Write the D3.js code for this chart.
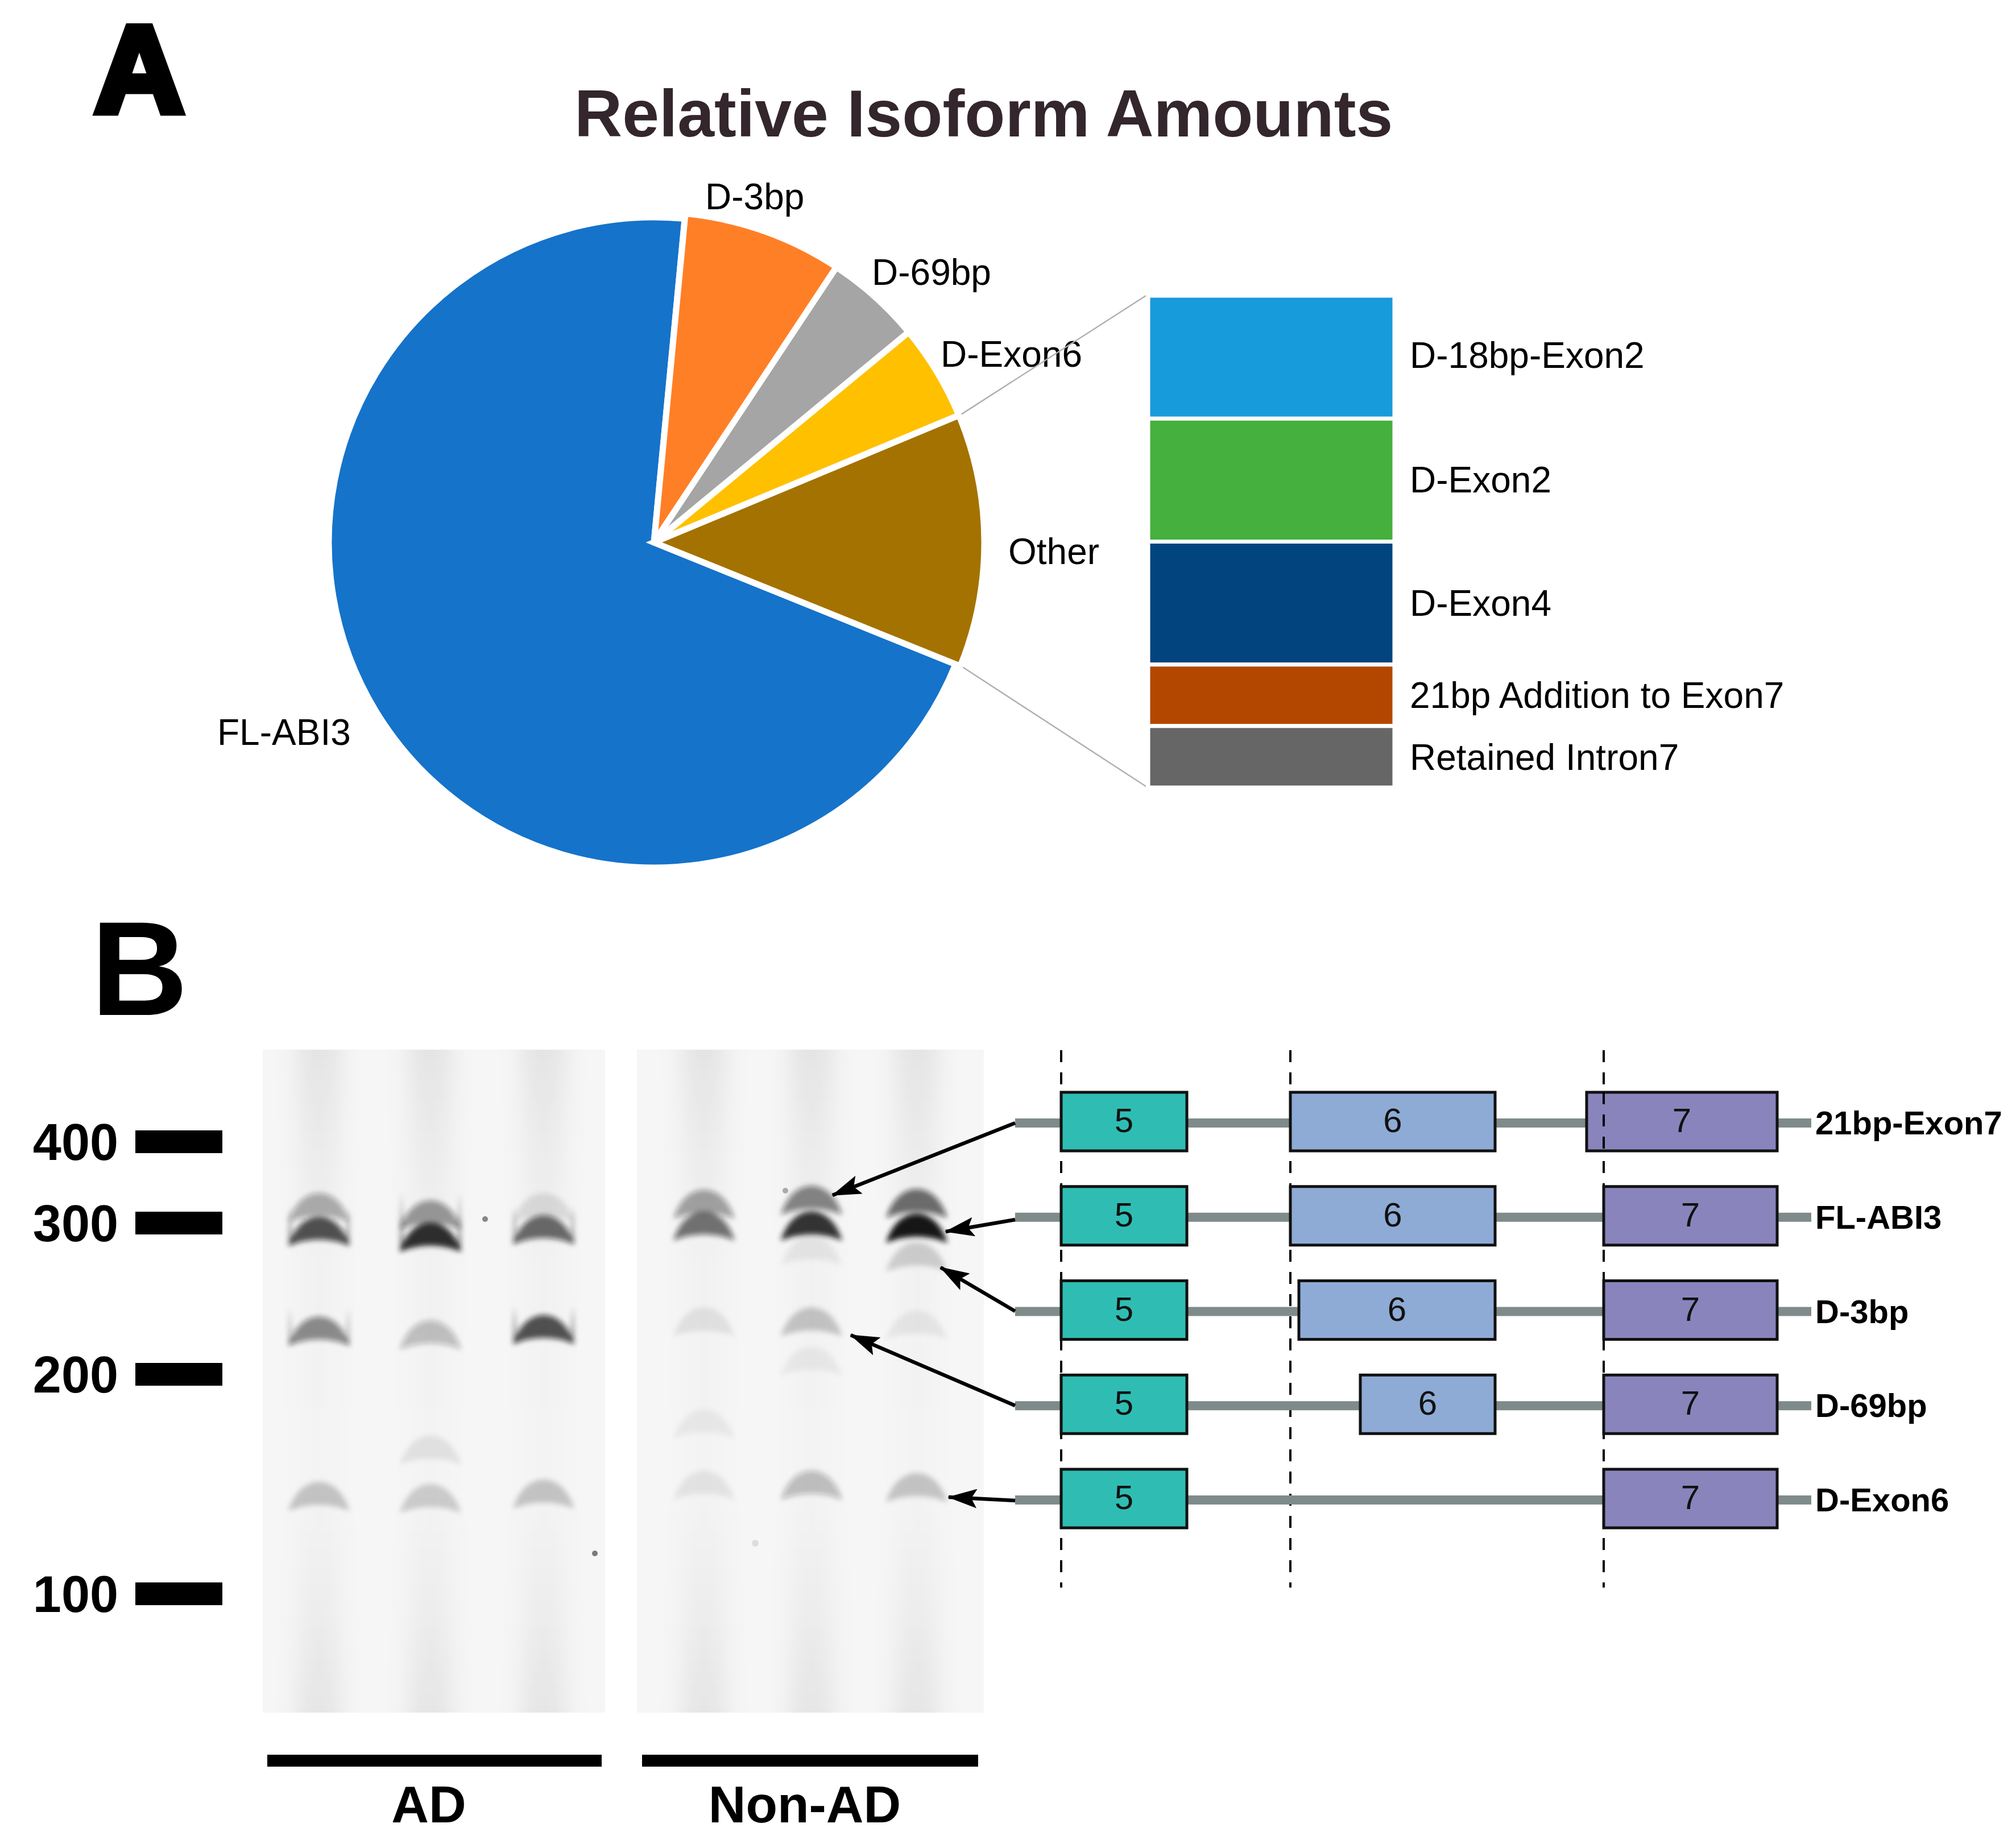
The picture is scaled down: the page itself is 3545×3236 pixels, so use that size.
<!DOCTYPE html>
<html><head><meta charset="utf-8">
<script src="https://cdn.jsdelivr.net/npm/d3@7"></script>
<style>html,body{margin:0;padding:0;background:#fff}svg{display:block}text{font-family:"Liberation Sans",Arial,sans-serif}</style>
</head><body><div id="c"></div>
<script>
// ---- data ----
const pieLabels = ["FL-ABI3","D-3bp","D-69bp","D-Exon6","Other"];
const pieValues = [70.4,7.8,4.7,4.7,12.4];
const pieColors = ["#1573ca","#ff7f27","#a5a5a5","#ffc000","#a47200"];
const otherLabels = ["D-18bp-Exon2","D-Exon2","D-Exon4","21bp Addition to Exon7","Retained Intron7"];
const otherValues = [25,25,25,12.5,12.5];
const otherColors = ["#189bdb","#45b03d","#02447e","#b34700","#666666"];
const ladderSizes = [400,300,200,100];
const laneNames = ["AD1","AD2","AD3","N1","N2","N3"];
const groupNames = ["AD","Non-AD"];
// gel bands: lane, size in bp, darkness 0-1
const bandLane = ["AD1","AD1","AD1","AD1","AD2","AD2","AD2","AD2","AD2","AD3","AD3","AD3","AD3","N1","N1","N1","N1","N1","N2","N2","N2","N2","N2","N2","N3","N3","N3","N3","N3"];
const bandSize = [318,294,228,144,309,290,225.5,165,143,318,295,229,145,322,297.5,234,177,149,327,297.5,281,234,208,149,323,296,277,232,148];
const bandDark = [.33,.72,.48,.2,.42,.9,.25,.08,.17,.1,.62,.72,.2,.38,.58,.08,.05,.07,.5,.88,.06,.2,.05,.26,.6,1,.16,.06,.2];
const isoforms = ["21bp-Exon7","FL-ABI3","D-3bp","D-69bp","D-Exon6"];
const exon6Starts = [0,0,15,123,null];   // offset of exon 6 5' end
const exon7Extra = [30,0,0,0,0];         // added length at the 5' end of exon 7

// ---- layout ----
const W=3545,H=3236;
const svg=d3.select("#c").append("svg").attr("width",W).attr("height",H).attr("viewBox",[0,0,W,H]);
const defs=svg.append("defs");
svg.append("rect").attr("width",W).attr("height",H).attr("fill","#fff");
const txt=(x,y,s,size,opt={})=>svg.append("text").attr("x",x).attr("y",y).text(s).attr("font-size",size)
  .attr("font-weight",opt.w||"normal").attr("fill",opt.c||"#000").attr("text-anchor",opt.a||"start");

txt(245,197,"A",218,{w:"bold",a:"middle"}).attr("stroke","#000").attr("stroke-width",13);
txt(160,1785,"B",236,{w:"bold"});
txt(1010,240,"Relative Isoform Amounts",116.5,{w:"bold",c:"#33262c"});

// ---- pie ----
const cx=1150,cy=954;
const deg=Math.PI/180;
const pieGen=d3.pie().sort(null).value(d=>d).startAngle(112*deg).endAngle(472*deg);
const arcs=pieGen(pieValues);
const pieG=svg.append("g").attr("transform",`translate(${cx},${cy})`);
pieG.selectAll("path").data(arcs).join("path")
  .attr("d",(d,i)=>d3.arc().innerRadius(0).outerRadius(i===0?572:581)(d))
  .attr("fill",(d,i)=>pieColors[i]).attr("stroke","#fff").attr("stroke-width",11).attr("stroke-linejoin","miter");
const pieLabelPos=[[382,1310],[1240,368],[1533,501],[1654,645],[1773,992]];
pieLabels.forEach((s,i)=>txt(pieLabelPos[i][0],pieLabelPos[i][1],s,64));

// ---- stacked breakdown ----
const stackY=d3.scaleLinear().domain([0,d3.sum(otherValues)]).range([520,1385]);
const stack=d3.cumsum(otherValues);
const otherArc=arcs[4];
const pt=a=>[cx+586*Math.sin(a),cy-586*Math.cos(a)];
[[otherArc.startAngle,stackY(0)],[otherArc.endAngle,stackY(100)-2]].forEach(([a,y])=>{
  const p=pt(a);
  svg.append("line").attr("x1",p[0]).attr("y1",p[1]).attr("x2",2015).attr("y2",y).attr("stroke","#b0b0b0").attr("stroke-width",2.5);
});
svg.append("g").selectAll("rect").data(otherValues).join("rect")
  .attr("x",2019).attr("width",433)
  .attr("y",(d,i)=>stackY(stack[i]-d)).attr("height",d=>stackY(d)-stackY(0))
  .attr("fill",(d,i)=>otherColors[i]).attr("stroke","#fff").attr("stroke-width",7);
const otherBase=[647,866,1083,1245,1354];
otherLabels.forEach((s,i)=>txt(2479,otherBase[i],s,64));

// ---- gel ----
const sizeY=d3.scaleLinear().domain([100,200,300,400]).range([2803,2417,2151,2008]);
const laneX=d3.scaleOrdinal().domain(laneNames).range([561,757,956,1238,1427,1612]);
const panels=[{x0:462,x1:1064,lanes:laneNames.slice(0,3),bx:[470,1058],lx:754,name:groupNames[0]},
              {x0:1120,x1:1730,lanes:laneNames.slice(3),bx:[1129,1720],lx:1415,name:groupNames[1]}];
const gelTop=1846,gelBot=3012;
const gr=defs.append("linearGradient").attr("id","streak").attr("x1",0).attr("x2",0).attr("y1",0).attr("y2",1);
[[0,.08],[.12,.05],[.3,.022],[.65,.01],[.85,.04],[1,.075]].forEach(([o,a])=>gr.append("stop").attr("offset",o).attr("stop-color","#000").attr("stop-opacity",a));
defs.append("filter").attr("id","bx").attr("x","-150%").attr("width","400%").attr("y",0).attr("height","100%")
  .append("feGaussianBlur").attr("stdDeviation","22 0");
defs.append("filter").attr("id","bb").attr("x","-30%").attr("width","160%").attr("y","-40%").attr("height","180%")
  .append("feGaussianBlur").attr("stdDeviation",5);
panels.forEach((p,i)=>{
  defs.append("clipPath").attr("id","cp"+i).append("rect").attr("x",p.x0).attr("y",gelTop).attr("width",p.x1-p.x0).attr("height",gelBot-gelTop);
  const g=svg.append("g").attr("clip-path",`url(#cp${i})`);
  g.append("rect").attr("x",p.x0).attr("y",gelTop).attr("width",p.x1-p.x0).attr("height",gelBot-gelTop).attr("fill","#f6f6f6");
  p.lanes.forEach(l=>g.append("rect").attr("x",laneX(l)-35).attr("width",70).attr("y",gelTop).attr("height",gelBot-gelTop).attr("fill","url(#streak)").attr("filter","url(#bx)"));
  svg.append("rect").attr("x",p.bx[0]).attr("y",3086).attr("width",p.bx[1]-p.bx[0]).attr("height",21).attr("fill","#000");
  txt(p.lx,3205,p.name,91,{w:"bold",a:"middle"});
});
// filled dome with a shallow concave base, and thin "horns" at the edges of the darker AD bands
const tent="M-54,24C-44,-8 -24,-27 0,-27C24,-27 44,-8 54,24Q0,2 -54,24Z";
const horns="M-54,24L-52,-44L-46,20ZM54,24L52,-44L46,20Z";
const bandG=svg.append("g").attr("filter","url(#bb)");
bandG.selectAll("path.b").data(bandSize).join("path").attr("class","b")
  .attr("transform",(d,i)=>`translate(${laneX(bandLane[i])},${sizeY(d)})`)
  .attr("d",tent).attr("fill","#161616").attr("opacity",(d,i)=>bandDark[i]);
bandG.selectAll("path.h").data(bandSize).join("path").attr("class","h")
  .attr("transform",(d,i)=>`translate(${laneX(bandLane[i])},${sizeY(d)})`)
  .attr("d",(d,i)=>bandLane[i].startsWith("AD")&&bandDark[i]>.4?horns:"")
  .attr("fill","#161616").attr("opacity",(d,i)=>bandDark[i]*.55);
svg.append("g").selectAll("circle").data([[853,2144,5,.45],[1046,2732,5,.5],[1381,2094,5,.3],[1328,2714,6,.1]]).join("circle")
  .attr("cx",d=>d[0]).attr("cy",d=>d[1]).attr("r",d=>d[2]).attr("fill","#000").attr("opacity",d=>d[3]);
// ladder
ladderSizes.forEach(s=>{
  svg.append("rect").attr("x",238).attr("width",153).attr("y",sizeY(s)-20).attr("height",40).attr("fill","#000");
  txt(208,sizeY(s)+32,String(s),90,{w:"bold",a:"end"});
});

// ---- exon diagram ----
const rowY=d3.scalePoint().domain(isoforms).range([1975,2638]);
const geneX=d3.scaleLinear().domain([0,360]).range([2269,2629]);
const label=["5","6","7"];
[1866,2269,2820].forEach(x=>svg.append("line").attr("x1",x).attr("x2",x).attr("y1",1847).attr("y2",2792)
  .attr("stroke","#000").attr("stroke-width",4).attr("stroke-dasharray","21 18"));
isoforms.forEach((name,i)=>{
  const y=rowY(name);
  svg.append("line").attr("x1",1785).attr("x2",3185).attr("y1",y).attr("y2",y).attr("stroke","#7f8b8b").attr("stroke-width",16);
  const box=(x0,x1,fill,t)=>{
    svg.append("rect").attr("x",x0).attr("y",y-54).attr("width",x1-x0).attr("height",103)
      .attr("fill",fill).attr("stroke","#111").attr("stroke-width",5);
    txt((x0+x1)/2,y+16,t,60,{a:"middle",c:"#111"});
  };
  box(1866,2087,"#2fbdb3",label[0]);
  if(exon6Starts[i]!==null) box(geneX(exon6Starts[i]),geneX(360),"#8eabd6",label[1]);
  box(2820-exon7Extra[i],3125,"#8a84bd",label[2]);
  txt(3192,y+20,name,58,{w:"bold"});
  svg.append("line").attr("x1",2820).attr("x2",2820).attr("y1",y-54).attr("y2",y+49).attr("stroke","#000").attr("stroke-width",exon7Extra[i]?4:0).attr("stroke-dasharray","21 18");
});

// ---- arrows ----
defs.append("marker").attr("id","ah").attr("markerUnits","userSpaceOnUse").attr("viewBox","0 0 52 34")
  .attr("refX",50).attr("refY",17).attr("markerWidth",52).attr("markerHeight",34).attr("orient","auto")
  .append("path").attr("d","M0,0L52,17L0,34L10,17Z").attr("fill","#000");
const arrowTips=[[1464,2102],[1663,2166],[1654,2229],[1496,2348],[1668,2633]];
const arrowY=[1975,2145,2306,2472,2639];
arrowTips.forEach((t,i)=>svg.append("line").attr("x1",1785).attr("y1",arrowY[i]).attr("x2",t[0]).attr("y2",t[1])
  .attr("stroke","#000").attr("stroke-width",6.5).attr("marker-end","url(#ah)"));
</script></body></html>
